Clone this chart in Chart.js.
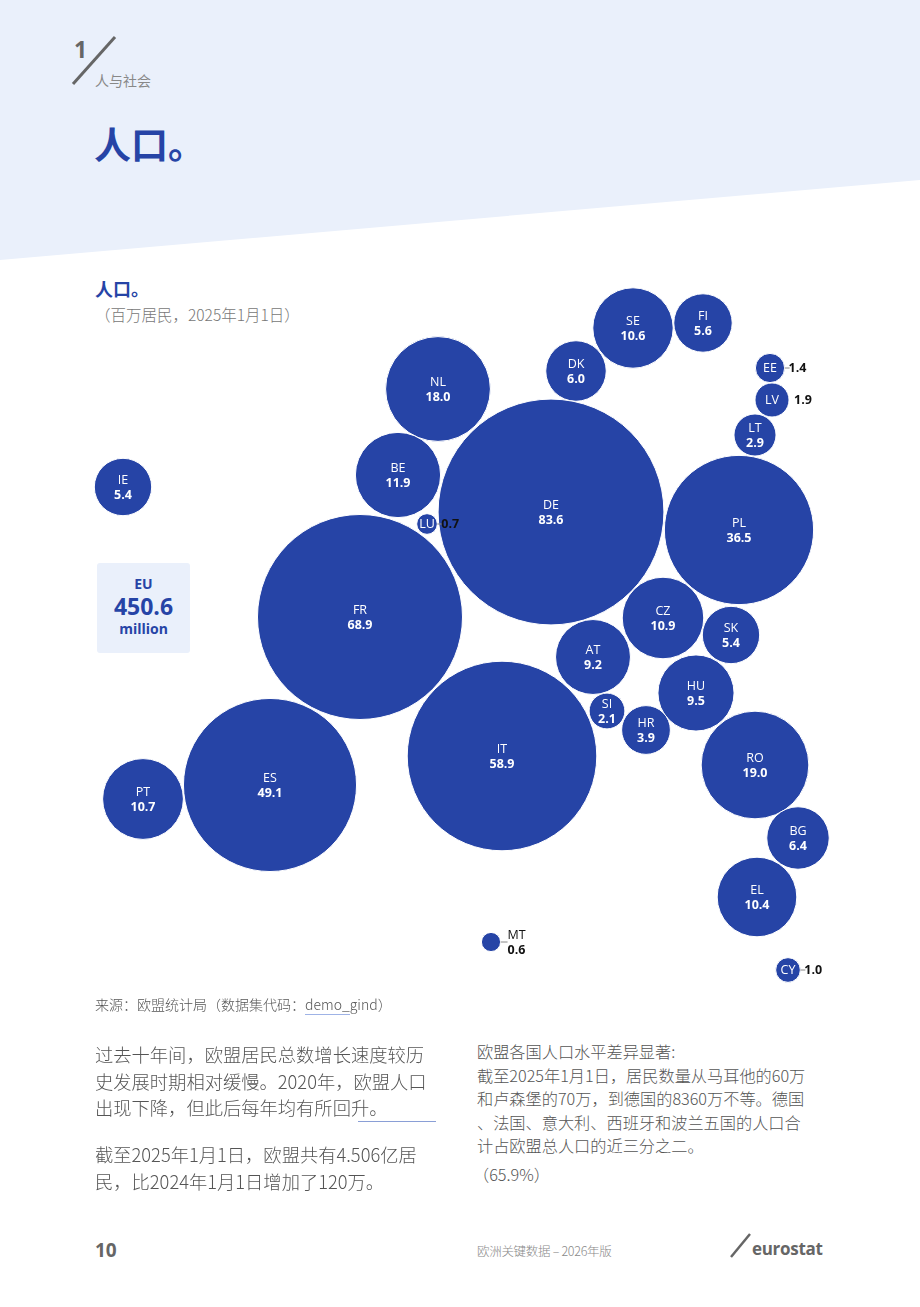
<!DOCTYPE html>
<html>
<head>
<meta charset="utf-8">
<script src="https://cdn.jsdelivr.net/npm/chart.js@4"></script>
<style>
  html, body { margin:0; padding:0; background:#fff; }
  body { width:920px; height:1307px; position:relative; overflow:hidden;
         font-family:"Noto Sans CJK SC","Noto Sans",sans-serif; color:#555; }
  .abs { position:absolute; white-space:nowrap; }
  #band { position:absolute; left:0; top:0; width:920px; height:262px; background:#eaf0fb;
          clip-path:polygon(0 0,920px 0,920px 180px,0 260px); }
  #chartBox { position:absolute; left:0; top:270px; width:920px; height:740px; }
  .eubox { position:absolute; left:97px; top:563px; width:93px; height:90px; background:#eaf0fb;
           border-radius:3px; text-align:center; color:#2644a6; font-family:"Open Sans",sans-serif; font-weight:700; }
  .p1 { font-size:18.3px; line-height:26.5px; color:#555; font-weight:300; }
  .p2 { font-size:16.2px; line-height:23.6px; color:#555; font-weight:300; }
</style>
</head>
<body>
<div id="band"></div>
<div class="abs" style="left:74px;top:33px;font:700 23px 'Open Sans',sans-serif;color:#666;">1</div>
<svg class="abs" style="left:68px;top:34px;" width="52" height="54"><line x1="5" y1="50" x2="47" y2="3" stroke="#666" stroke-width="3"/></svg>
<div class="abs" style="left:95px;top:70px;font-size:14px;color:#888;">人与社会</div>
<div class="abs" style="left:94px;top:116px;font-size:37px;font-weight:700;color:#2644a6;">人口。</div>

<div class="abs" style="left:95px;top:275px;font-size:18px;font-weight:700;color:#2644a6;">人口。</div>
<div class="abs" style="left:95px;top:303px;font-size:15.5px;color:#777;font-weight:300;">（百万居民，2025年1月1日）</div>

<div id="chartBox"><canvas id="bubbles"></canvas></div>

<div class="eubox">
  <div style="font-size:14px;margin-top:12px;line-height:18px;">EU</div>
  <div style="font-size:23px;line-height:26px;">450.6</div>
  <div style="font-size:14px;line-height:20px;">million</div>
</div>

<div class="abs" style="left:95px;top:994px;font-size:14px;color:#555;font-weight:300;">来源：欧盟统计局（数据集代码：<span style="border-bottom:1px solid #9fb3e6;">demo_</span>gind）</div>

<div class="abs p1" style="left:95px;top:1041px;">过去十年间，欧盟居民总数增长速度较历<br>史发展时期相对缓慢。2020年，欧盟人口<br>出现下降，但此后每年均有所回升。</div>
<div class="abs" style="left:358px;top:1121px;width:78px;height:1px;background:#8a9fd6;"></div>
<div class="abs p1" style="left:95px;top:1141px;">截至2025年1月1日，欧盟共有4.506亿居<br>民，比2024年1月1日增加了120万。</div>

<div class="abs p2" style="left:477px;top:1040px;">欧盟各国人口水平差异显著:<br>截至2025年1月1日，居民数量从马耳他的60万<br>和卢森堡的70万，到德国的8360万不等。德国<br>、法国、意大利、西班牙和波兰五国的人口合<br>计占欧盟总人口的近三分之二。</div>
<div class="abs p2" style="left:473px;top:1163px;">（65.9%）</div>

<div class="abs" style="left:95px;top:1237px;font:700 19px 'Open Sans',sans-serif;color:#666;">10</div>
<div class="abs" style="left:477px;top:1241px;font-size:12.5px;color:#888;font-weight:300;letter-spacing:-0.3px;">欧洲关键数据 – 2026年版</div>
<svg class="abs" style="left:728px;top:1232px;" width="26" height="28"><line x1="3" y1="25" x2="22" y2="2" stroke="#666" stroke-width="2.5"/></svg>
<div class="abs" style="left:752px;top:1237px;font:700 17px 'Open Sans',sans-serif;color:#666;letter-spacing:-0.3px;">eurostat</div>

<script>
// country codes and population (million, 1 Jan 2025)
const countries = ['SE','FI','DK','NL','EE','LV','LT','IE','BE','LU','DE','PL','FR','CZ','SK','AT','HU','SI','HR','IT','RO','ES','PT','BG','EL','MT','CY'];
const population = [10.6,5.6,6.0,18.0,1.4,1.9,2.9,5.4,11.9,0.7,83.6,36.5,68.9,10.9,5.4,9.2,9.5,2.1,3.9,58.9,19.0,49.1,10.7,6.4,10.4,0.6,1.0];
// bubble layout (map-like positions, in scale units)
const layoutX = [633,703,576,438,770,772,755,123,398,427,551,739,360,663,731,593,696,607,646,502,755,270,143,798,757,491,788];
const layoutY = [328,323,371,389,368,400,435,487,475,524,512,530,617,618,635,657,693,711,730,756,765,785,799,838,897,942,970];
// countries whose value is written beside the bubble
const valueOutside = ['EE','LV','LU','CY'];
const allOutside = ['MT'];

const BLUE = '#2644a6';
const scaleR = 12.35; // px per sqrt(million)

const points = countries.map((c, i) => ({ x: layoutX[i], y: layoutY[i], r: Math.sqrt(population[i]) * scaleR }));

const labelPlugin = {
  id: 'bubbleLabels',
  afterDatasetsDraw(chart) {
    const ctx = chart.ctx;
    const meta = chart.getDatasetMeta(0);
    ctx.save();
    ctx.textAlign = 'center';
    ctx.textBaseline = 'middle';
    meta.data.forEach((el, i) => {
      const code = countries[i];
      const val = population[i].toFixed(1);
      const r = points[i].r;
      const x = el.x, y = el.y;
      if (allOutside.includes(code)) {
        ctx.strokeStyle = '#888'; ctx.lineWidth = 1;
        ctx.beginPath(); ctx.moveTo(x + r, y); ctx.lineTo(x + r + 7, y); ctx.stroke();
        ctx.textAlign = 'left';
        ctx.fillStyle = '#111';
        ctx.font = '12.5px "Open Sans", sans-serif';
        ctx.fillText(code, x + r + 7, y - 7);
        ctx.font = 'bold 12.5px "Open Sans", sans-serif';
        ctx.fillText(val, x + r + 7, y + 8);
        ctx.textAlign = 'center';
      } else if (valueOutside.includes(code)) {
        ctx.fillStyle = '#fff';
        ctx.font = '12.5px "Open Sans", sans-serif';
        ctx.fillText(code, x, y + 0.5);
        if (code !== 'LV') {
          ctx.strokeStyle = '#888'; ctx.lineWidth = 1;
          ctx.beginPath(); ctx.moveTo(x + r, y); ctx.lineTo(x + r + 5, y); ctx.stroke();
        }
        ctx.textAlign = 'left';
        ctx.fillStyle = '#111';
        ctx.font = 'bold 12.5px "Open Sans", sans-serif';
        ctx.fillText(val, x + r + (code === 'LV' ? 5 : 4), y + 0.5);
        ctx.textAlign = 'center';
      } else {
        ctx.fillStyle = '#fff';
        ctx.font = '12.5px "Open Sans", sans-serif';
        ctx.fillText(code, x, y - 7);
        ctx.font = 'bold 12.5px "Open Sans", sans-serif';
        ctx.fillText(val, x, y + 8);
      }
    });
    ctx.restore();
  }
};

new Chart(document.getElementById('bubbles'), {
  type: 'bubble',
  data: {
    datasets: [{
      data: points,
      backgroundColor: BLUE,
      borderColor: '#ffffff',
      borderWidth: 1,
      hoverRadius: 0
    }]
  },
  options: {
    responsive: true,
    maintainAspectRatio: false,
    animation: false,
    events: [],
    layout: { padding: 0, autoPadding: false },
    clip: false,
    scales: {
      x: { type: 'linear', min: 0, max: 920, display: false },
      y: { type: 'linear', min: 270, max: 1010, reverse: true, display: false }
    },
    plugins: { legend: { display: false }, tooltip: { enabled: false } }
  },
  plugins: [labelPlugin]
});
</script>
</body>
</html>
